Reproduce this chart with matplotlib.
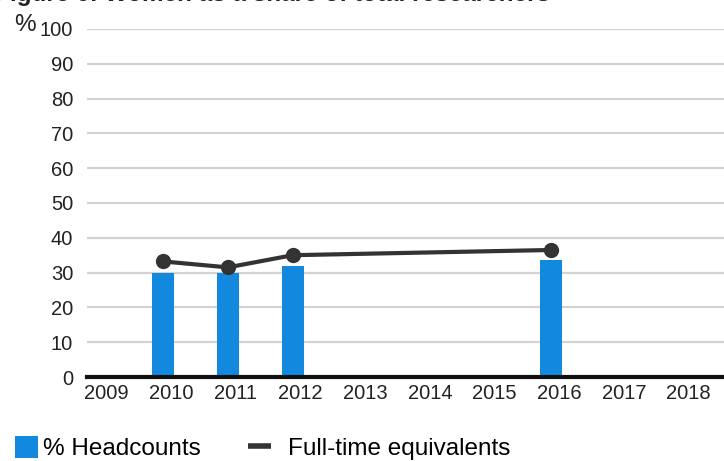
import matplotlib
matplotlib.use("Agg")
import matplotlib.pyplot as plt
import matplotlib.transforms as mtransforms
from matplotlib.patches import Patch
from matplotlib.lines import Line2D
import numpy as np

plt.rcParams['font.family'] = ['Liberation Sans', 'DejaVu Sans']

years = ['2009', '2010', '2011', '2012', '2013', '2014', '2015', '2016', '2017', '2018']
bar_years = ['2010', '2011', '2012', '2016']
headcounts = [30.0, 30.0, 32.0, 33.5]
fte_years = ['2010', '2011', '2012', '2016']
fte = [33.2, 31.5, 35.0, 36.5]
yticks = [0, 10, 20, 30, 40, 50, 60, 70, 80, 90, 100]

title = "Figure 6: Women as a share of total researchers"
bar_color = '#1289df'
line_color = '#333333'
text_color = '#222222'

W, H = 724, 461
fig = plt.figure(figsize=(W / 100, H / 100), dpi=100)
ax = fig.add_axes([87 / W, (H - 377) / H, 1 - 87 / W, (377 - 29) / H])

xpos = {y: i for i, y in enumerate(years)}
bx = [xpos[y] for y in bar_years]
lx = [xpos[y] for y in fte_years]

ax.bar(bx, headcounts, width=0.34, color=bar_color, zorder=2)
ax.plot(lx, fte, color=line_color, lw=3, marker='o', markersize=10, zorder=3)

ax.set_xlim(-0.18, 9.67)
ax.set_ylim(0, 100)
ax.set_yticks(yticks)
ax.set_yticklabels([str(v) for v in yticks], fontsize=14.5, color=text_color)
ax.set_xticks(range(len(years)))
ax.set_xticklabels(years, fontsize=14.5, color=text_color)
ax.tick_params(axis='both', length=0)
ax.tick_params(axis='y', pad=10)
ax.tick_params(axis='x', pad=5)
offset = mtransforms.ScaledTranslation(8 / 100, 0, fig.dpi_scale_trans)
for lab in ax.get_xticklabels():
    lab.set_transform(lab.get_transform() + offset)

ax.yaxis.grid(True, color='#d3d3d3', lw=1.6, zorder=0)
ax.set_axisbelow(True)
for s in ['left', 'right', 'top']:
    ax.spines[s].set_visible(False)
ax.spines['bottom'].set_linewidth(3)
ax.spines['bottom'].set_color('#111111')
ax.spines['bottom'].set_zorder(4)

fig.text(14 / W, 1 - 31 / H, '%', fontsize=17.5, color=text_color, ha='left', va='baseline')
fig.text(550 / W, 1 - 1.5 / H, title, fontsize=17.5, fontweight='bold', color=text_color,
         ha='right', va='baseline')

leg_kw = dict(loc='lower left', frameon=False, fontsize=17.5,
              handlelength=0.95, handleheight=1.0, borderaxespad=0.2)
leg1 = fig.legend([Patch(facecolor=bar_color, edgecolor='none')], ['% Headcounts'],
                  bbox_to_anchor=(0.0, -14 / H), handletextpad=0.2, **leg_kw)
leg2 = fig.legend([Line2D([0], [0], color=line_color, lw=4, solid_capstyle='butt')],
                  ['Full-time equivalents'],
                  bbox_to_anchor=(233 / W, -14 / H), handletextpad=0.7, **leg_kw)

fig.savefig('out.png', dpi=100)
